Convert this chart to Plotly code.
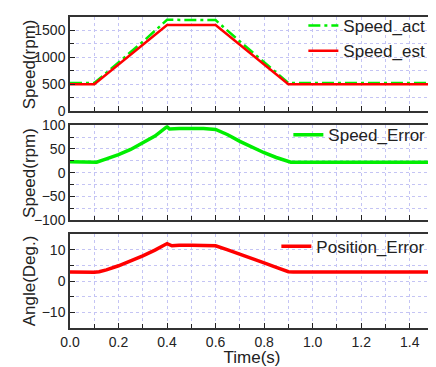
import plotly.graph_objects as go
from plotly.subplots import make_subplots

# ---- data ----
t_est = [0.0, 0.1, 0.4, 0.6, 0.9, 1.5]
speed_est = [500, 500, 1600, 1600, 500, 500]

t_act = [0.0, 0.1, 0.2, 0.3, 0.4, 0.6, 0.7, 0.8, 0.9, 1.5]
speed_act = [522, 521, 905, 1290, 1698, 1692, 1295, 906, 523, 522]

t_err = [0.0, 0.05, 0.1, 0.11, 0.15, 0.2, 0.25, 0.3, 0.35, 0.4, 0.41, 0.45, 0.5, 0.55, 0.6,
         0.65, 0.7, 0.75, 0.8, 0.85, 0.9, 0.91, 1.0, 1.2, 1.5]
speed_err = [23, 22, 22, 22, 29, 38, 49, 62, 77, 97, 92, 93, 93, 93, 91,
             80, 66, 53, 42, 32, 24, 22, 22, 22, 22]

t_pos = [0.0, 0.05, 0.1, 0.12, 0.15, 0.2, 0.25, 0.3, 0.35, 0.4, 0.42, 0.45, 0.5, 0.55, 0.6,
         0.65, 0.7, 0.75, 0.8, 0.85, 0.9, 0.92, 1.0, 1.2, 1.5]
pos_err = [2.9, 2.8, 2.8, 3.0, 3.6, 4.9, 6.4, 8.1, 9.9, 12.0, 11.3, 11.5, 11.5, 11.5, 11.3,
           10.0, 8.5, 7.1, 5.8, 4.4, 3.0, 2.9, 2.9, 2.9, 2.9]

x_ticks = [0.0, 0.2, 0.4, 0.6, 0.8, 1.0, 1.2, 1.4]
y_titles = ["Speed(rpm)", "Speed(rpm)", "Angle(Deg.)"]

FONT = "Arial, Liberation Sans, sans-serif"
GREEN = "#00ee00"
RED = "#ff0000"
GRID = "#c4c4f4"

fig = make_subplots(rows=3, cols=1, shared_xaxes=True, vertical_spacing=0.04)

fig.add_trace(go.Scatter(x=t_act, y=speed_act, mode="lines", name="Speed_act",
                         line=dict(color=GREEN, width=2.5, dash="12px,4px,3px,4px"),
                         legend="legend"), row=1, col=1)
fig.add_trace(go.Scatter(x=t_est, y=speed_est, mode="lines", name="Speed_est",
                         line=dict(color=RED, width=2.5), legend="legend"), row=1, col=1)
fig.add_trace(go.Scatter(x=t_err, y=speed_err, mode="lines", name="Speed_Error",
                         line=dict(color=GREEN, width=3.5), legend="legend2"), row=2, col=1)
fig.add_trace(go.Scatter(x=t_pos, y=pos_err, mode="lines", name="Position_Error",
                         line=dict(color=RED, width=3.5), legend="legend3"), row=3, col=1)

xcommon = dict(range=[0, 1.5], tickvals=x_ticks, ticks="inside", ticklen=5, tickwidth=1.2,
               tickcolor="#222", showline=True, linecolor="#333", linewidth=1.5, mirror=True,
               showgrid=True, gridcolor=GRID, griddash="dot", gridwidth=1,
               minor=dict(dtick=0.1, tick0=0, ticks="inside", ticklen=4, tickcolor="#222",
                          showgrid=True, gridcolor=GRID, griddash="dot"),
               zeroline=False, tickfont=dict(family=FONT, size=14, color="#222"))
fig.update_xaxes(**xcommon)
fig.update_xaxes(showticklabels=False, row=1, col=1)
fig.update_xaxes(showticklabels=False, row=2, col=1)
fig.update_xaxes(tickformat=".1f", title=dict(text="Time(s)", font=dict(family=FONT, size=17, color="#222"), standoff=0), row=3, col=1)

ycommon = dict(ticks="inside", ticklen=5, tickwidth=1.2, tickcolor="#222",
               showline=True, linecolor="#333", linewidth=1.5, mirror=True,
               showgrid=True, gridcolor=GRID, griddash="dot", zeroline=False,
               tickfont=dict(family=FONT, size=14, color="#222"))
fig.update_yaxes(**ycommon)
domains = [[0.6975, 1.0], [0.347, 0.652], [0.0, 0.3016]]
fig.update_yaxes(range=[0, 1750], tickvals=[0, 500, 1000, 1500], domain=domains[0],
                 minor=dict(dtick=250, tick0=0, ticks="inside", ticklen=4, tickcolor="#222",
                            showgrid=True, gridcolor=GRID, griddash="dot"),
                 row=1, col=1)
fig.update_yaxes(range=[-100, 100], tickvals=[-100, -50, 0, 50, 100], domain=domains[1],
                 minor=dict(dtick=25, tick0=0, ticks="inside", ticklen=4, tickcolor="#222",
                            showgrid=True, gridcolor=GRID, griddash="dot"),
                 row=2, col=1)
fig.update_yaxes(range=[-15, 15], tickvals=[-10, 0, 10], domain=domains[2],
                 minor=dict(dtick=5, tick0=0, ticks="inside", ticklen=4, tickcolor="#222",
                            showgrid=True, gridcolor=GRID, griddash="dot"),
                 row=3, col=1)

for txt, dom in zip(y_titles, domains):
    fig.add_annotation(text=txt, textangle=-90, xref="paper", yref="paper",
                       x=-0.112, y=(dom[0] + dom[1]) / 2, xanchor="center", yanchor="middle",
                       showarrow=False, font=dict(family=FONT, size=17, color="#222"))

legfont = dict(family=FONT, size=17, color="#222")
fig.update_layout(
    width=428, height=359,
    margin=dict(l=62, r=0, t=6, b=39),
    paper_bgcolor="white", plot_bgcolor="white",
    legend=dict(x=0.99, y=1.03, xanchor="right", yanchor="top", font=legfont,
                bgcolor="rgba(0,0,0,0)", tracegroupgap=0),
    legend2=dict(x=0.99, y=0.678, xanchor="right", yanchor="top", font=legfont,
                 bgcolor="rgba(0,0,0,0)"),
    legend3=dict(x=0.99, y=0.319, xanchor="right", yanchor="top", font=legfont,
                 bgcolor="rgba(0,0,0,0)"),
    showlegend=True,
)

fig.write_html("out.html")
